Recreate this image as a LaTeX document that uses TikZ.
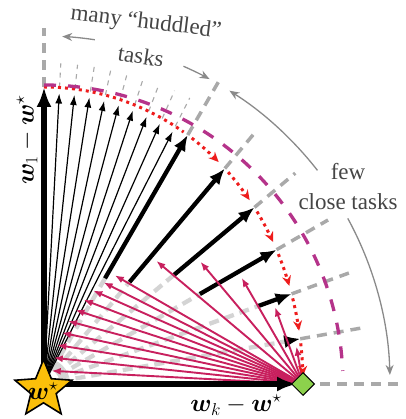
\documentclass[tikz,border=0pt]{standalone}
\usepackage{fontspec}
\setmainfont{Liberation Serif}
\usepackage{amsmath,bm}
\usetikzlibrary{arrows.meta,shapes.geometric,calc}
\definecolor{magen}{HTML}{B5338A}
\definecolor{crim}{HTML}{C8205E}
\definecolor{dotred}{HTML}{EE1C1C}
\definecolor{gold}{HTML}{FBBF0A}
\definecolor{lgreen}{HTML}{8CD14C}
\definecolor{txtgray}{HTML}{454545}
\definecolor{dgray}{HTML}{A9A9A9}
\definecolor{lgray}{HTML}{D4D4D4}
\definecolor{agray}{HTML}{8A8A8A}
\pgfmathdeclarefunction{rr}{1}{\pgfmathparse{259+38*sin(#1)*sin(#1)}}
\tikzset{
  axisarrow/.style={line width=5.5pt,-{Latex[length=20pt,width=15pt]}},
  thickarrow/.style={line width=4.3pt,-{Latex[length=16pt,width=13pt]}},
  thinarrow/.style={line width=1.2pt,-{Latex[length=10pt,width=7pt]}},
  redarrow/.style={crim,line width=1.9pt,-{Latex[length=9pt,width=7pt]}},
  extthick/.style={dgray,line width=3.5pt,dash pattern=on 10pt off 7pt},
  extthin/.style={dgray,line width=1.1pt,dash pattern=on 5pt off 5pt},
  innergray/.style={lgray,line width=4.3pt,dash pattern=on 10pt off 6pt},
  reddot/.style={dotred,line width=3pt,dash pattern=on 3pt off 4pt},
  magdash/.style={magen,line width=3.3pt,dash pattern=on 12pt off 12pt},
  annarrow/.style={agray,line width=1.3pt,-{Stealth[length=10pt,width=8pt]}},
  lbl/.style={font=\fontsize{24}{28}\selectfont},
  note/.style={txtgray,font=\fontsize{23}{26}\selectfont,inner sep=0pt},
}
\begin{document}
\begin{tikzpicture}[x=1pt,y=1pt]
\useasboundingbox (-44,-35) rectangle (361,384);
\coordinate (O) at (0,0);
\coordinate (D) at (259,0);
% gray dashed extensions
\foreach \a/\e in {0/355,10/328,20/328,30/328,40/328,50/328,60/355,90/356}{
  \pgfmathsetmacro{\r}{rr(\a)}
  \coordinate (t\a) at (\a:\r);
  \coordinate (e\a) at (\a:\e);
  \draw[extthick] (t\a) -- (e\a);
}
\foreach \a in {63,66,...,87}{
  \pgfmathsetmacro{\r}{rr(\a)}
  \coordinate (s\a) at (\a:\r);
  \coordinate (f\a) at (\a:321);
  \draw[extthin] (s\a) -- (f\a);
}
% thick arrows (few close tasks)
\foreach \a/\s in {10/245,20/228,30/180,40/170,50/133,60/122}{
  \pgfmathsetmacro{\r}{rr(\a)}
  \coordinate (b\a) at (\a:\s);
  \coordinate (k\a) at (\a:\r);
  \draw[innergray] (O) -- (b\a);
  \draw[thickarrow] (b\a) -- (k\a);
}
% thin arrows (huddled tasks)
\foreach \a in {63,66,...,87}{
  \pgfmathsetmacro{\r}{rr(\a)-6}
  \coordinate (h\a) at (\a:\r);
  \draw[thinarrow] (O) -- (h\a);
}
% red arrows from the diamond
\foreach \a in {10,20,30,40,50,60,63,66,...,87}{
  \pgfmathsetmacro{\L}{259*sin(\a)-7}
  \pgfmathsetmacro{\ang}{90+\a}
  \coordinate (q\a) at ($(D)+(\ang:\L)$);
  \draw[redarrow] (D) -- (q\a);
}
% axes
\coordinate (ytip) at (90:297);
\coordinate (xtip) at (253,0);
\draw[axisarrow] (O) -- (ytip);
\draw[axisarrow] (O) -- (xtip);
% red dotted curve
\draw[reddot] plot[domain=90:61,samples=40] ({rr(\x)*cos(\x)},{rr(\x)*sin(\x)});
\foreach \a/\b in {60/50,50/40,40/30,30/20,20/10,10/0}{
  \pgfmathsetmacro{\st}{\a-1}
  \pgfmathsetmacro{\en}{\b+1.8}
  \draw[reddot,-{Stealth[length=10pt,width=9pt]}] plot[domain=\st:\en,samples=15] ({rr(\x)*cos(\x)},{rr(\x)*sin(\x)});
}
% magenta dashed arc
\draw[magdash] (90:299) arc[start angle=90,end angle=2.5,radius=299];
% star and diamond
\node[star,star points=5,star point ratio=2.25,minimum size=60pt,inner sep=0pt,fill=gold,draw=black,line width=1.6pt] (star) at (-0.5,-5.5) {};
\node[font=\fontsize{24}{26}\selectfont] (starlbl) at (-1,-7) {$\boldsymbol{w}^{\star}$};
\node[diamond,minimum size=23pt,inner sep=0pt,fill=lgreen,draw=black,line width=1pt] (dia) at (D) {};
% axis labels
\node[lbl,rotate=90] (ylab) at (-17,244) {$\boldsymbol{w}_1-\boldsymbol{w}^{\star}$};
\node[lbl] (xlab) at (192,-21) {$\boldsymbol{w}_k-\boldsymbol{w}^{\star}$};
% notes
\node[note,rotate=-7] (many) at (102,361) {many “huddled”};
\node[note,rotate=-9] (tasks) at (97,328) {tasks};
\node[note] (few) at (304,212) {few};
\node[note] (close) at (304,182) {close tasks};
\draw[annarrow] (81.6:348) arc[start angle=81.6,end angle=87,radius=348];
\draw[annarrow] (66.3:347) arc[start angle=66.3,end angle=61.5,radius=347];
\draw[annarrow] (38:347) arc[start angle=38,end angle=57.7,radius=347];
\draw[annarrow] (28.6:346) arc[start angle=28.6,end angle=1.5,radius=346];
\end{tikzpicture}
\end{document}
